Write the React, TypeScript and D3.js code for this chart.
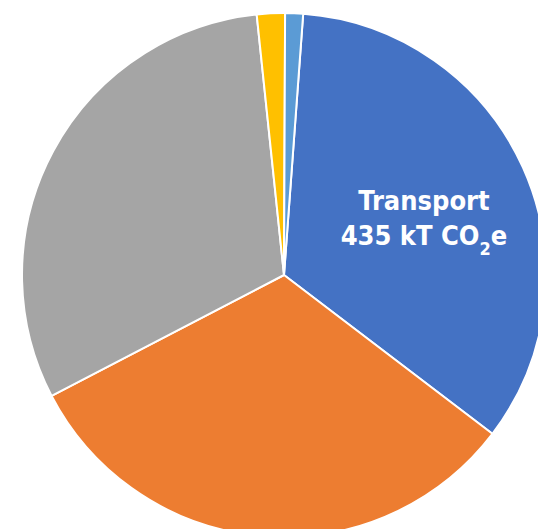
import React, { useRef, useEffect } from "react";
import * as d3 from "d3";

// sectors, clockwise from the top (with a small rotation like the source)
const categories = ["Transport", "Buildings", "Industry", "Agriculture", "Waste"];
const values = [435, 407, 394, 22, 14];
const colors = ["#4472C4", "#ED7D31", "#A5A5A5", "#FFC000", "#5B9BD5"];
const labelLines = ["Transport", "435 kT CO", "e"];

const W = 538;
const H = 529;

export default function App() {
  const svgRef = useRef<SVGSVGElement>(null);

  useEffect(() => {
    const svg = d3.select(svgRef.current);
    svg.selectAll("*").remove();

    const cx = 284;
    const cy = 275;
    const r = 262;
    const rot = (4.2 * Math.PI) / 180;

    const pie = d3
      .pie<number>()
      .sort(null)
      .startAngle(rot)
      .endAngle(rot + Math.PI * 2);
    const arc = d3.arc<d3.PieArcDatum<number>>().innerRadius(0).outerRadius(r);
    const arcs = pie(values);

    const g = svg.append("g").attr("transform", `translate(${cx},${cy})`);
    g.selectAll("path")
      .data(arcs)
      .join("path")
      .attr("d", arc)
      .attr("fill", (d, i) => colors[i])
      .attr("stroke", "#fff")
      .attr("stroke-width", 2)
      .attr("stroke-linejoin", "round");

    // label for the transport sector
    const lbl = g
      .append("text")
      .attr("fill", "#fff")
      .attr("font-family", "'Liberation Sans Narrow', 'DejaVu Sans Condensed', sans-serif")
      .attr("font-weight", "bold")
      .attr("font-size", 27)
      .attr("text-anchor", "middle");
    lbl.append("tspan").attr("x", 424 - cx).attr("y", 210 - cy).text(labelLines[0]);
    const l2 = lbl.append("tspan").attr("x", 424 - cx).attr("y", 245 - cy);
    l2.text(labelLines[1]);
    lbl.append("tspan").attr("dy", 10).attr("font-size", 18).text("2");
    lbl.append("tspan").attr("dy", -10).text(labelLines[2]);
    void categories;
  }, []);

  return (
    <svg ref={svgRef} width={W} height={H} style={{ position: "absolute", left: 0, top: 0 }} />
  );
}
